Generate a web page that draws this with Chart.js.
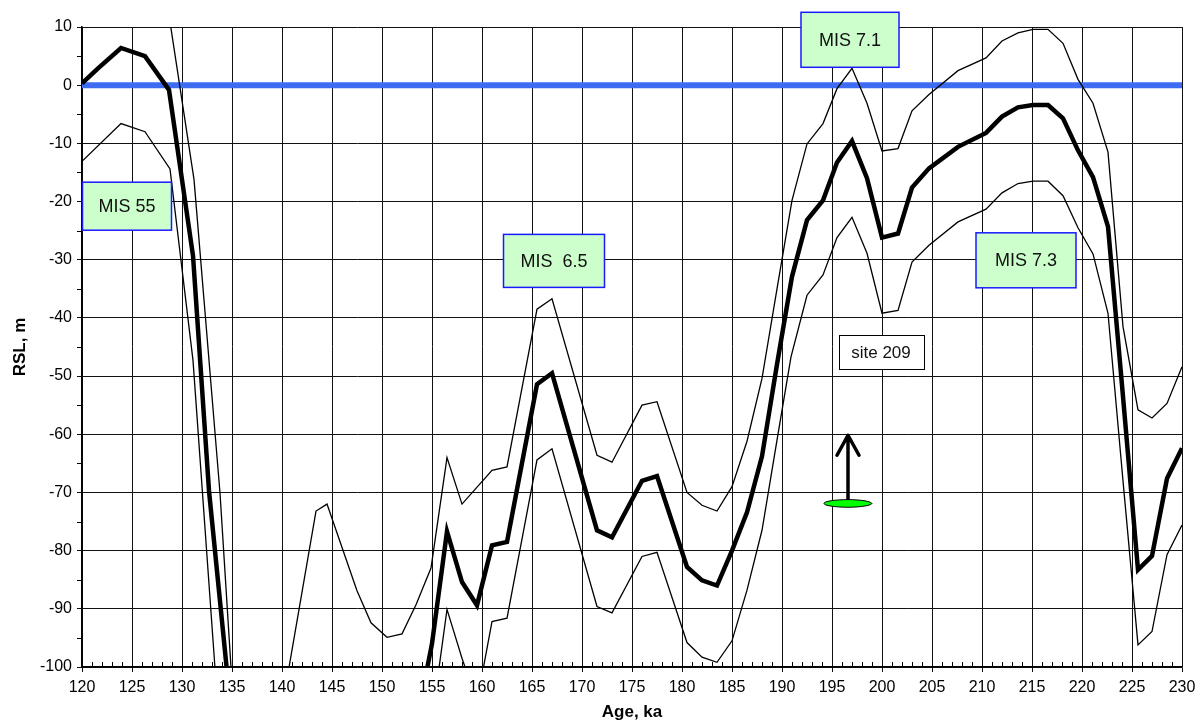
<!DOCTYPE html>
<html>
<head>
<meta charset="utf-8">
<script src="https://cdn.jsdelivr.net/npm/chart.js@4/dist/chart.umd.min.js"></script>
<style>
  html, body { margin: 0; padding: 0; background: #fff; }
  #wrap { width: 1203px; height: 725px; position: relative; }
</style>
</head>
<body>
<div id="wrap"><canvas id="c" width="1203" height="725"></canvas></div>
<script>
// ---- data ----
const meanAge = [120.0, 121.6, 123.9, 126.3, 128.7, 131.1, 132.7, 135.5, 145.0, 153.4, 155.0, 156.5, 158.0, 159.5, 161.0, 162.5, 165.5, 167.0, 171.5, 173.0, 176.0, 177.5, 180.5, 182.0, 183.5, 185.0, 186.5, 188.0, 189.5, 191.0, 192.5, 194.1, 195.5, 197.0, 198.5, 200.0, 201.6, 203.0, 204.7, 207.6, 210.4, 212.0, 213.6, 215.1, 216.6, 218.1, 219.6, 221.1, 222.6, 224.1, 225.6, 227.0, 228.5, 230.0];
const meanRsl = [0.3, 2.9, 6.4, 5.0, -0.8, -29.3, -69.7, -118, -130, -110, -96, -76.7, -85.4, -89.4, -79.1, -78.5, -51.4, -49.5, -76.5, -77.7, -68.0, -67.2, -82.8, -85.1, -86.0, -80.0, -73.4, -63.8, -48.0, -32.9, -23.2, -19.8, -13.3, -9.6, -16.0, -26.2, -25.5, -17.6, -14.3, -10.6, -8.2, -5.4, -3.8, -3.4, -3.4, -5.7, -11.2, -15.8, -24.3, -53.5, -83.3, -80.9, -67.6, -62.4];

const upperAge = [120.0, 121.6, 123.9, 126.3, 128.7, 131.2, 133.8, 136.0, 139.0, 143.4, 144.5, 147.5, 148.9, 150.5, 152.0, 153.4, 154.9, 156.5, 158.0, 161.0, 162.5, 165.5, 167.0, 171.5, 173.0, 176.0, 177.5, 180.5, 182.0, 183.5, 185.0, 186.5, 188.0, 189.5, 191.0, 192.5, 194.1, 195.5, 197.0, 198.5, 200.0, 201.6, 203.0, 204.7, 207.6, 210.4, 212.0, 213.6, 215.1, 216.6, 218.1, 219.6, 221.1, 222.6, 224.1, 225.6, 227.0, 228.5, 230.0];
const upperRsl = [13.3, 15.9, 19.4, 18.0, 12.0, -16.2, -70.1, -130, -117, -73.2, -72.0, -86.9, -92.4, -94.9, -94.3, -89.3, -83.0, -64.0, -72.0, -66.2, -65.6, -38.5, -36.7, -63.6, -64.8, -55.0, -54.4, -70.0, -72.2, -73.2, -69.0, -61.2, -50.4, -35.0, -19.8, -10.1, -6.6, -0.6, 2.9, -3.1, -11.3, -10.9, -4.4, -1.6, 2.5, 4.7, 7.6, 9.0, 9.6, 9.6, 7.2, 1.0, -3.1, -11.5, -41.5, -55.8, -57.2, -54.7, -48.4];

const lowerAge = [120.0, 123.9, 126.3, 128.8, 131.1, 134.0, 145.0, 155.0, 156.5, 158.0, 159.5, 161.0, 162.5, 165.5, 167.0, 171.5, 173.0, 176.0, 177.5, 180.5, 182.0, 183.5, 185.0, 186.5, 188.0, 189.5, 190.9, 192.5, 194.1, 195.5, 197.0, 198.5, 200.0, 201.6, 203.0, 204.7, 207.6, 210.4, 212.0, 213.6, 215.1, 216.6, 218.1, 219.6, 221.1, 222.6, 224.1, 225.6, 227.0, 228.5, 230.0];
const lowerRsl = [-13.1, -6.6, -8.0, -14.4, -47.3, -117, -140, -109, -90.1, -98.5, -106, -92.2, -91.6, -64.4, -62.5, -89.6, -90.7, -81.0, -80.3, -95.8, -98.3, -99.2, -95.5, -86.8, -76.5, -61.0, -46.7, -36.1, -32.6, -26.2, -22.7, -28.9, -39.2, -38.7, -30.4, -27.5, -23.5, -21.3, -18.5, -16.9, -16.5, -16.5, -19.0, -24.5, -29.0, -39.2, -68.0, -96.2, -93.9, -80.7, -75.6];

const zeroAge = [120, 230];
const zeroRsl = [0, 0];

// labels (text at data positions: [age, rsl])
const labelTexts = ['MIS 55', 'MIS  6.5', 'MIS 7.1', 'MIS 7.3'];
const labelAge = [124.5, 167.2, 196.8, 214.4];
const labelRsl = [-20.8, -30.2, 7.8, -30.1];
const siteText = 'site 209';
const siteLabelAge = 199.9, siteLabelRsl = -45.9;
const siteAge = 196.6, siteRsl = -71.8, siteArrowTop = -60.0;

const xTicksMin = 120, xTicksMax = 230, xStep = 5;
const yTicksMin = -100, yTicksMax = 10, yStep = 10;

function pts(a, v) { return a.map((x, i) => ({x: x, y: v[i]})); }

const FONT = "'Liberation Sans', Arial, sans-serif";

const overlay = {
  id: 'overlay',
  afterDatasetsDraw(chart) {
    const ctx = chart.ctx;
    const xs = chart.scales.x, ys = chart.scales.y;
    const ca = chart.chartArea;
    ctx.save();
    // minor ticks x (every 1 ka, inward)
    ctx.strokeStyle = '#000';
    ctx.lineWidth = 1;
    ctx.beginPath();
    for (let a = xTicksMin + 1; a < xTicksMax; a++) {
      if (a % xStep === 0) continue;
      const px = Math.round(xs.getPixelForValue(a)) + 0.5;
      ctx.moveTo(px, ca.bottom);
      ctx.lineTo(px, ca.bottom - 5);
    }
    // minor ticks y (mid-way, outward)
    for (let v = yTicksMin + yStep / 2; v < yTicksMax; v += yStep) {
      const py = Math.round(ys.getPixelForValue(v)) + 0.5;
      ctx.moveTo(ca.left - 5, py);
      ctx.lineTo(ca.left, py);
    }
    ctx.stroke();

    // MIS boxes
    const sizes = [[89, 48], [101, 53], [98, 55], [100, 55]];
    ctx.font = '18px ' + FONT;
    ctx.textAlign = 'center';
    ctx.textBaseline = 'middle';
    labelTexts.forEach((t, i) => {
      const cx = xs.getPixelForValue(labelAge[i]);
      const cy = ys.getPixelForValue(labelRsl[i]);
      const w = sizes[i][0], h = sizes[i][1];
      ctx.fillStyle = '#ccffcc';
      ctx.fillRect(cx - w / 2, cy - h / 2, w, h);
      ctx.strokeStyle = '#1a1aff';
      ctx.lineWidth = 1.5;
      ctx.strokeRect(cx - w / 2, cy - h / 2, w, h);
      ctx.fillStyle = '#111';
      ctx.fillText(t, cx, cy + 1);
    });

    // site label
    {
      const cx = xs.getPixelForValue(siteLabelAge);
      const cy = ys.getPixelForValue(siteLabelRsl);
      const w = 85, h = 34;
      ctx.fillStyle = '#fff';
      ctx.fillRect(cx - w / 2, cy - h / 2, w, h);
      ctx.strokeStyle = '#000';
      ctx.lineWidth = 1;
      ctx.strokeRect(Math.round(cx - w / 2) + 0.5, Math.round(cy - h / 2) + 0.5, w, h);
      ctx.fillStyle = '#111';
      ctx.font = '17px ' + FONT;
      ctx.fillText(siteText, cx, cy + 1);
    }

    // site marker: arrow + ellipse
    {
      const sx = xs.getPixelForValue(siteAge);
      const sy = ys.getPixelForValue(siteRsl);
      const ty = ys.getPixelForValue(siteArrowTop);
      ctx.strokeStyle = '#000';
      ctx.lineWidth = 3.5;
      ctx.lineCap = 'round';
      ctx.lineJoin = 'round';
      ctx.beginPath();
      ctx.moveTo(sx, sy - 3);
      ctx.lineTo(sx, ty + 2);
      ctx.moveTo(sx - 11, ty + 21);
      ctx.lineTo(sx, ty + 1);
      ctx.lineTo(sx + 11, ty + 21);
      ctx.stroke();
      ctx.beginPath();
      ctx.ellipse(sx, sy + 0.5, 24, 3.8, 0, 0, Math.PI * 2);
      ctx.fillStyle = '#00ff00';
      ctx.fill();
      ctx.lineWidth = 1;
      ctx.strokeStyle = '#000';
      ctx.stroke();
    }
    ctx.restore();
  }
};

new Chart(document.getElementById('c'), {
  type: 'scatter',
  data: {
    datasets: [
      { data: pts(meanAge, meanRsl), showLine: true, borderColor: '#000', borderWidth: 4.5, pointRadius: 0, tension: 0, clip: 0, order: 0, borderJoinStyle: 'miter' },
      { data: pts(upperAge, upperRsl), showLine: true, borderColor: '#000', borderWidth: 1.3, pointRadius: 0, tension: 0, clip: 0, order: 1 },
      { data: pts(lowerAge, lowerRsl), showLine: true, borderColor: '#000', borderWidth: 1.3, pointRadius: 0, tension: 0, clip: 0, order: 1 },
      { data: pts(zeroAge, zeroRsl), showLine: true, borderColor: '#3d6cf2', borderWidth: 6, pointRadius: 0, tension: 0, clip: {left: 6, right: 0, top: 0, bottom: 0}, order: 3 }
    ]
  },
  options: {
    responsive: false,
    animation: false,
    devicePixelRatio: 1,
    layout: { padding: { top: 27, right: 21, left: 0, bottom: 0 } },
    plugins: { legend: { display: false }, tooltip: { enabled: false } },
    scales: {
      x: {
        type: 'linear', min: xTicksMin, max: xTicksMax,
        ticks: { stepSize: xStep, color: '#000', font: { family: FONT, size: 16 }, padding: 6, maxRotation: 0 },
        grid: { color: '#111', lineWidth: 1, tickLength: 5 },
        border: { color: '#000', width: 1.5 },
        title: { display: true, text: 'Age, ka', color: '#000', font: { family: FONT, size: 17, weight: 'bold' }, padding: { top: 0, bottom: 2 } },
        afterFit(s) { s.height = 58; s.paddingLeft = 0; s.paddingRight = 0; }
      },
      y: {
        type: 'linear', min: yTicksMin, max: yTicksMax,
        ticks: { stepSize: yStep, color: '#000', font: { family: FONT, size: 16 }, padding: 5 },
        grid: { color: '#111', lineWidth: 1, tickLength: 5 },
        border: { color: '#000', width: 1.5 },
        title: { display: true, text: 'RSL, m', color: '#000', font: { family: FONT, size: 17, weight: 'bold' }, padding: { top: 10, bottom: 0 } },
        afterFit(s) { s.width = 82; s.paddingTop = 0; s.paddingBottom = 0; }
      }
    }
  },
  plugins: [overlay]
});
</script>
</body>
</html>
